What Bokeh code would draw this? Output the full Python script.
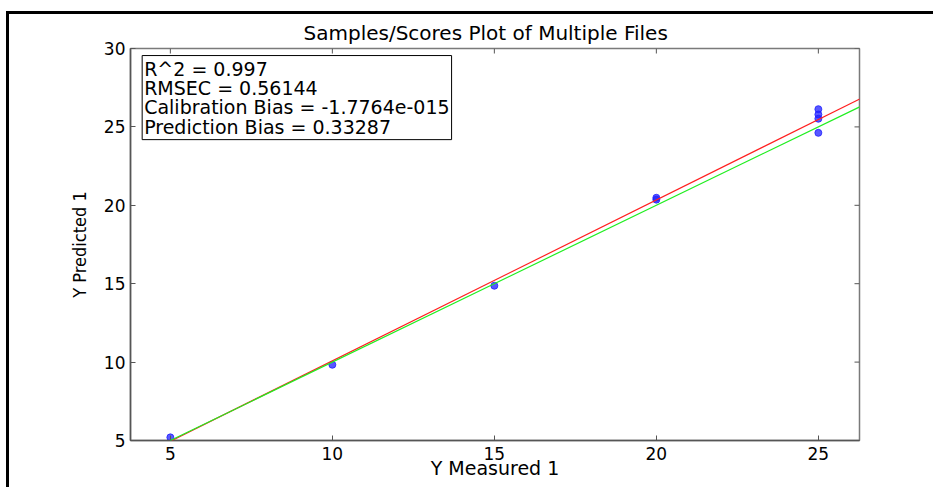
import math
from bokeh.plotting import figure
from bokeh.models import Range1d, Label, Slope, FixedTicker
from bokeh.embed import file_html
from bokeh.resources import INLINE

# ---- data ----
measured = [5, 10, 15, 20, 20, 25, 25, 25, 25]
predicted = [5.2, 9.83, 14.87, 20.48, 20.36, 26.13, 25.79, 25.52, 24.62]
x_ticks = [5, 10, 15, 20, 25]
y_ticks = [5, 10, 15, 20, 25, 30]
fit_slope = 1.026
fit_intercept = -0.18
unity_slope = 1.0
unity_intercept = 0.0
stats_lines = [
    "R^2 = 0.997",
    "RMSEC = 0.56144",
    "Calibration Bias = -1.7764e-015",
    "Prediction Bias = 0.33287",
]
title_text = "Samples/Scores Plot of Multiple Files"
x_label = "Y Measured 1"
y_label = "Y Predicted 1"

FONT = "DejaVu Sans"

xr = Range1d(3.77, 26.27)
yr = Range1d(5, 30)
p = figure(
    width=927, height=476,
    x_range=xr, y_range=yr,
    output_backend="svg", toolbar_location=None,
    min_border_left=121, min_border_right=77,
    min_border_top=34, min_border_bottom=50,
    title=title_text,
)
p.styles = {"border-top": "3px solid black", "border-left": "3px solid black",
            "margin-left": "6px", "margin-top": "11px"}

p.background_fill_color = "white"
p.border_fill_color = "white"
p.outline_line_color = "#7a7a7a"
p.outline_line_width = 1.5
p.grid.visible = False

p.title.align = "left"
p.title.offset = 173
p.title.text_font = FONT
p.title.text_font_style = "normal"
p.title.text_font_size = "20px"
p.title.text_color = "black"
p.title.standoff = 7

for ax, ticks in ((p.xaxis[0], x_ticks), (p.yaxis[0], y_ticks)):
    ax.ticker = FixedTicker(ticks=ticks)
    ax.major_tick_in = 5
    ax.major_tick_out = 0
    ax.minor_tick_in = 0
    ax.minor_tick_out = 0
    ax.axis_line_color = "#555555"
    ax.axis_line_width = 1.5
    ax.major_tick_line_color = "#555555"
    ax.major_label_text_font = FONT
    ax.major_label_text_font_size = "17px"
    ax.major_label_text_color = "black"
    ax.axis_label_text_font_style = "normal"
    ax.axis_label_text_color = "black"

p.xaxis[0].axis_label = x_label
p.xaxis[0].axis_label_text_font = FONT
p.xaxis[0].axis_label_text_font_size = "19px"
p.xaxis[0].major_label_standoff = 6
p.xaxis[0].axis_label_standoff = -6

p.yaxis[0].axis_label = y_label
p.yaxis[0].axis_label_text_font = "DejaVu Sans Condensed"
p.yaxis[0].axis_label_text_font_size = "18px"
p.yaxis[0].major_label_standoff = 5
p.yaxis[0].axis_label_standoff = 11

# mirrored inward ticks on top and right edges of the box
p.ray(x=x_ticks, y=[yr.end] * len(x_ticks), length=5, length_units="screen",
      angle=-math.pi / 2, line_color="#555555", line_width=1)
p.ray(x=[xr.end] * len(y_ticks), y=y_ticks, length=5, length_units="screen",
      angle=math.pi, line_color="#555555", line_width=1)

# fit line (red) and unity line (green)
p.add_layout(Slope(gradient=fit_slope, y_intercept=fit_intercept,
                   line_color="#ff2020", line_width=1.2))
p.add_layout(Slope(gradient=unity_slope, y_intercept=unity_intercept,
                   line_color="#20ee20", line_width=1.2))

p.scatter(measured, predicted, size=7, fill_color="#2020ff", fill_alpha=0.75,
          line_color="#2020ff", line_alpha=0.8)

stats = Label(
    x=4.13, y=29.55, text="\n".join(stats_lines),
    anchor="top_left", text_font=FONT, text_font_size="19px",
    text_line_height=0.88, text_color="black",
    border_line_color="black", border_line_width=1,
    background_fill_color="white", padding=2,
)
p.add_layout(stats)

open("out.html", "w").write(file_html(p, INLINE))
